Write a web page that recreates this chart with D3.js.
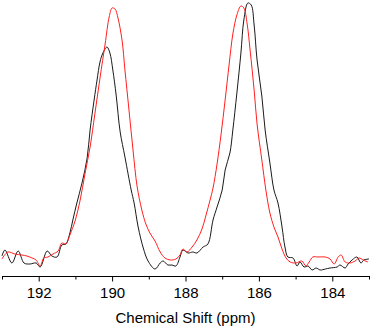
<!DOCTYPE html>
<html>
<head>
<meta charset="utf-8">
<script src="https://cdn.jsdelivr.net/npm/d3@7"></script>
<style>
  body { margin: 0; background: #fff; }
  svg { display: block; font-family: "Liberation Sans", Arial, sans-serif; }
</style>
</head>
<body>
<svg id="chart"></svg>
<script>
// chemical shift (ppm) / intensity (a.u.)
const blackShift = [193.00, 192.92, 192.73, 192.56, 192.40, 192.24, 192.07, 191.96, 191.77, 191.64,
  191.50, 191.37, 191.26, 191.15, 191.07, 190.96, 190.82, 190.68, 190.60, 190.49,
  190.41, 190.33, 190.25, 190.14, 190.06, 189.98, 189.89, 189.78, 189.65, 189.48,
  189.40, 189.29, 189.15, 189.02, 188.83, 188.69, 188.61, 188.48, 188.37, 188.26,
  188.15, 188.07, 187.93, 187.80, 187.69, 187.52, 187.39, 187.25, 187.14, 187.00,
  186.92, 186.79, 186.71, 186.60, 186.49, 186.41, 186.30, 186.21, 186.13, 186.05,
  185.92, 185.83, 185.70, 185.59, 185.48, 185.37, 185.29, 185.21, 185.07, 184.96,
  184.88, 184.77, 184.66, 184.55, 184.44, 184.33, 184.19, 184.06, 183.87, 183.79,
  183.65, 183.57, 183.46, 183.33, 183.22, 183.14, 183.00];
const blackInt = [9, 15, 2, 14, 2, 1, 2, -2, 14, 9,
  8, 20, 21, 32, 45, 62, 82, 107, 135, 165,
  185, 203, 212, 218, 212, 195, 170, 133, 108, 75,
  62, 38, 17, 4, -4, 2, 4, 0, 0, -1,
  8, 15, 12, 13, 12, 18, 21, 45, 58, 75,
  95, 112, 135, 172, 212, 245, 262, 260, 240, 205,
  169, 135, 102, 75, 62, 38, 18, 8, 7, -1,
  3, -2, -1, -5, -3, -5, -4, -3, -2, 0,
  -3, 1, 5, 8, 2, 5, 6];

const redShift = [193.00, 192.84, 192.65, 192.46, 192.32, 192.18, 192.07, 191.96, 191.86, 191.75,
  191.61, 191.47, 191.37, 191.26, 191.15, 191.01, 190.87, 190.74, 190.60, 190.47,
  190.33, 190.19, 190.08, 190.00, 189.92, 189.84, 189.73, 189.65, 189.54, 189.43,
  189.32, 189.19, 189.08, 188.97, 188.83, 188.69, 188.56, 188.42, 188.26, 188.15,
  188.07, 187.96, 187.82, 187.69, 187.55, 187.44, 187.33, 187.25, 187.14, 187.03,
  186.92, 186.81, 186.71, 186.60, 186.49, 186.41, 186.32, 186.24, 186.13, 186.05,
  185.92, 185.81, 185.70, 185.59, 185.48, 185.37, 185.26, 185.15, 184.99, 184.83,
  184.72, 184.63, 184.53, 184.39, 184.19, 184.06, 183.95, 183.84, 183.76, 183.65,
  183.52, 183.38, 183.27, 183.16, 183.03];
const redInt = [6, 13, 11, 10, 9, 7, 5, -1, 7, 8,
  11, 14, 22, 21, 30, 44, 65, 91, 118, 151,
  187, 221, 248, 257, 256, 247, 225, 195, 155, 115,
  79, 55, 41, 32, 24, 13, 7, 5, 6, 10,
  16, 13, 18, 25, 36, 50, 65, 77, 101, 131,
  165, 201, 231, 250, 259, 257, 241, 215, 175, 141,
  105, 75, 52, 38, 28, 16, 7, 3, 2, 4,
  -1, 3, 8, 8, 8, 6, 1, 8, 10, 3,
  2, 4, 7, 5, 3];

const majorTicks = [192, 190, 188, 186, 184];
const minorTicks = [193, 191, 189, 187, 185, 183];
const xTitle = 'Chemical Shift (ppm)';

const width = 371;
const height = 328;
const margin = { top: 0, right: 2, bottom: 52, left: 2 };

const svg = d3.select('#chart')
  .attr('width', width)
  .attr('height', height);

const x = d3.scaleLinear()
  .domain([193, 183])
  .range([margin.left, width - margin.right]);

const y = d3.scaleLinear()
  .domain([-11, 265])
  .range([height - margin.bottom, margin.top]);

const line = d3.line()
  .x(d => x(d[0]))
  .y(d => y(d[1]))
  .curve(d3.curveCatmullRom.alpha(0.5));

const series = [
  { color: '#1a1a1a', pts: d3.zip(blackShift, blackInt) },
  { color: '#ff1f1f', pts: d3.zip(redShift, redInt) }
];

svg.append('g')
  .selectAll('path')
  .data(series)
  .enter().append('path')
  .attr('fill', 'none')
  .attr('stroke', d => d.color)
  .attr('stroke-width', 1)
  .attr('d', d => line(d.pts));

const axisY = height - margin.bottom;

// minor ticks first, then the labelled axis on top
svg.append('g')
  .attr('transform', `translate(0,${axisY})`)
  .call(d3.axisBottom(x).tickValues(minorTicks).tickSize(3.5).tickFormat(''))
  .call(g => g.select('.domain').remove());

svg.append('g')
  .attr('transform', `translate(0,${axisY})`)
  .call(d3.axisBottom(x).tickValues(majorTicks).tickSizeInner(5.5).tickSizeOuter(0).tickPadding(6))
  .call(g => g.selectAll('text').attr('font-size', 15).attr('fill', '#000').style('font-family', '"Liberation Sans", Arial, sans-serif'))
  .call(g => g.selectAll('line, path').attr('stroke', '#000'));

svg.append('text')
  .attr('x', (margin.left + width - margin.right) / 2)
  .attr('y', 323)
  .attr('text-anchor', 'middle')
  .attr('font-size', 15)
  .text(xTitle);
</script>
</body>
</html>
